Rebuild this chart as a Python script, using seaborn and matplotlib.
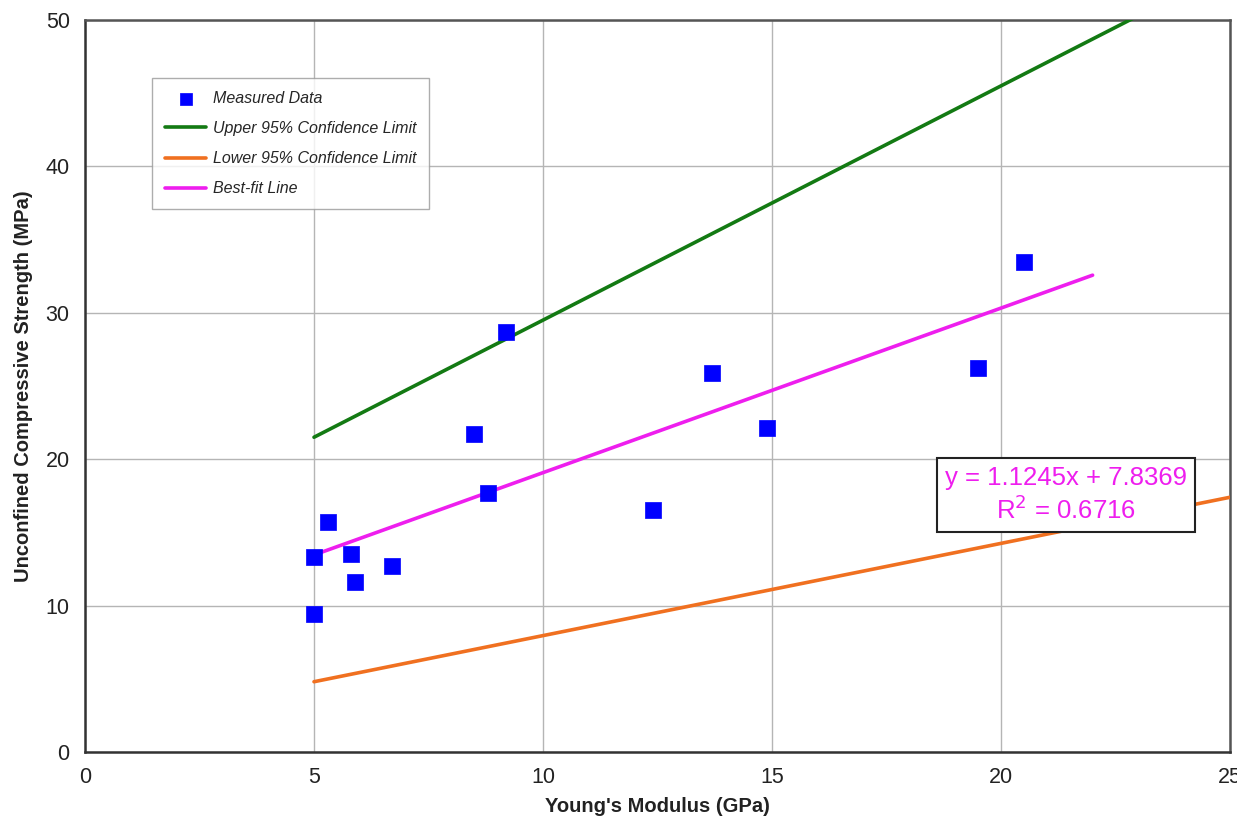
import matplotlib
matplotlib.use("Agg")
import matplotlib.pyplot as plt
import seaborn as sns
import pandas as pd

# Data
measured_x = [5.0, 5.0, 5.3, 5.8, 5.9, 6.7, 8.5, 8.8, 9.2, 12.4, 13.7, 14.9, 19.5, 20.5]
measured_y = [9.4, 13.3, 15.7, 13.5, 11.6, 12.7, 21.7, 17.7, 28.7, 16.5, 25.9, 22.1, 26.2, 33.5]

limit_x = [5.0, 25.0]
upper_y = [21.5, 53.5]
lower_y = [4.8, 17.4]

fit_x = [5.0, 22.0]
fit_y = [13.46, 32.57]

x_ticks = [0, 5, 10, 15, 20, 25]
y_ticks = [0, 10, 20, 30, 40, 50]

sns.set_theme(style="white")
plt.rcParams['font.family'] = ['Liberation Sans', 'DejaVu Sans']

fig = plt.figure(figsize=(12.37, 8.24), dpi=100)
ax = fig.add_axes([85/1237, 1-752/824, 1145/1237, 732/824])

green = "#137a13"
orange = "#f07020"
magenta = "#ee1eee"

sns.lineplot(x=limit_x, y=upper_y, ax=ax, color=green, linewidth=2.6,
             label="Upper 95% Confidence Limit", zorder=3)
sns.lineplot(x=limit_x, y=lower_y, ax=ax, color=orange, linewidth=2.6,
             label="Lower 95% Confidence Limit", zorder=3)
sns.lineplot(x=fit_x, y=fit_y, ax=ax, color=magenta, linewidth=2.6,
             label="Best-fit Line", zorder=3)
sns.scatterplot(x=measured_x, y=measured_y, ax=ax, marker='s', s=120,
                color="#0000ff", edgecolor="#0000ff", linewidth=0.5,
                label="Measured Data", zorder=4)

ax.set_xlim(0, 25)
ax.set_ylim(0, 50)
ax.set_xticks(x_ticks)
ax.set_yticks(y_ticks)
ax.tick_params(axis='both', labelsize=15.5, colors='#222222', length=5,
               width=1, color='#aaaaaa', pad=6)
ax.grid(True, color='#b5b5b5', linewidth=1)
ax.set_axisbelow(True)
for side in ['left', 'bottom']:
    ax.spines[side].set_color('#333333')
    ax.spines[side].set_linewidth(1.8)
for side in ['top', 'right']:
    ax.spines[side].set_color('#555555')
    ax.spines[side].set_linewidth(1.8)

ax.set_xlabel("Young's Modulus (GPa)", fontsize=14.5, fontweight='bold', color='#222222', labelpad=6)
ax.set_ylabel("Unconfined Compressive Strength (MPa)", fontsize=14.5, fontweight='bold', color='#222222', labelpad=9)

handles, labels = ax.get_legend_handles_labels()
order = [3, 0, 1, 2]
leg = ax.legend([handles[i] for i in order], [labels[i] for i in order],
                loc='upper left', bbox_to_anchor=((152-85)/1145, (752-78)/732),
                frameon=True, fancybox=False, edgecolor='#999999',
                prop={'style': 'italic', 'size': 11.5}, handlelength=2.6,
                borderpad=0.8, labelspacing=0.95, handletextpad=0.4,
                borderaxespad=0, markerscale=0.8)
leg.get_frame().set_linewidth(1.0)

ax.text((1066-85)/1145, (752-495)/732, "y = 1.1245x + 7.8369\nR$^2$ = 0.6716",
        transform=ax.transAxes, ha='center', va='center', fontsize=18.5,
        color=magenta, linespacing=1.25, zorder=6,
        bbox=dict(boxstyle='square,pad=0.32', facecolor='white', edgecolor='#222222', linewidth=1.5))

fig.savefig("out.png", dpi=100)
